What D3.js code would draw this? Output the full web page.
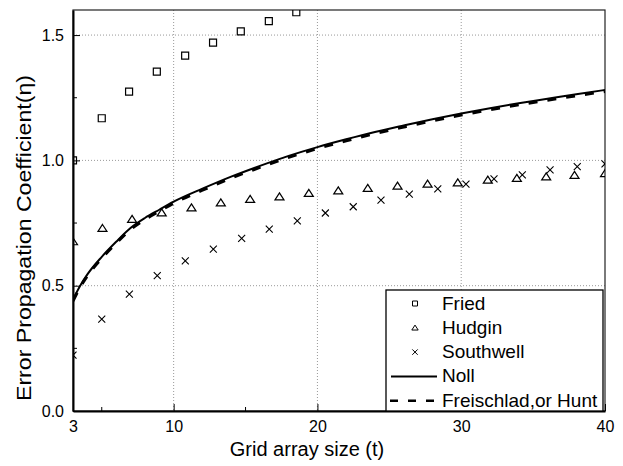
<!DOCTYPE html>
<html>
<head>
<meta charset="utf-8">
<script src="https://cdn.jsdelivr.net/npm/d3@7"></script>
<style>
  body { margin: 0; background: #fff; }
  svg { font-family: "Liberation Sans", Arial, sans-serif; }
  .grid line { stroke: #999; stroke-dasharray: 1,2; }
  .axis path, .axis line { stroke: #000; }
  .axis text { font-size: 16px; fill: #000; }
</style>
</head>
<body>
<svg id="chart" width="623" height="466"></svg>
<script>
// grid array sizes (t)
var friedT = [3, 5.0, 6.9, 8.83, 10.8, 12.74, 14.67, 16.62, 18.53];
var friedV = [1.0, 1.168, 1.274, 1.354, 1.418, 1.470, 1.515, 1.556, 1.591];

var hudginT = [3, 5.05, 7.11, 9.17, 11.24, 13.28, 15.32, 17.36, 19.4, 21.45, 23.5, 25.57, 27.66, 29.76, 31.85, 33.87, 35.91, 37.88, 40];
var hudginV = [0.676, 0.729, 0.765, 0.791, 0.811, 0.831, 0.845, 0.855, 0.869, 0.879, 0.889, 0.898, 0.906, 0.911, 0.922, 0.929, 0.935, 0.941, 0.948];

var southT = [3, 5.0, 6.92, 8.86, 10.81, 12.76, 14.73, 16.65, 18.6, 20.55, 22.49, 24.42, 26.39, 28.37, 30.33, 32.28, 34.25, 36.18, 38.07, 40];
var southV = [0.223, 0.367, 0.466, 0.540, 0.599, 0.646, 0.689, 0.726, 0.759, 0.790, 0.815, 0.841, 0.865, 0.886, 0.905, 0.926, 0.942, 0.962, 0.975, 0.986];

var lineT = [3, 3.5, 4, 5, 6, 7, 8, 9, 10, 12, 14, 16, 18, 20, 22, 24, 26, 28, 30, 32, 34, 36, 38, 40];
var nollV = [0.445, 0.50, 0.545, 0.615, 0.675, 0.73, 0.77, 0.803, 0.835, 0.887, 0.935, 0.978, 1.018, 1.053, 1.084, 1.113, 1.139, 1.164, 1.187, 1.208, 1.228, 1.246, 1.264, 1.281];
var freiV = [0.439, 0.494, 0.539, 0.609, 0.669, 0.724, 0.764, 0.797, 0.829, 0.881, 0.929, 0.972, 1.012, 1.047, 1.078, 1.107, 1.133, 1.158, 1.181, 1.202, 1.222, 1.240, 1.258, 1.275];

var xTicks = [3, 10, 20, 30, 40];
var xMinor = [5, 15, 25, 35];
var yTicks = [0, 0.5, 1.0, 1.5];
var yMinor = [0.25, 0.75, 1.25];

var legendNames = ["Fried", "Hudgin", "Southwell", "Noll", "Freischlad,or Hunt"];

var svg = d3.select("#chart");
var pl = 73, pr = 605, pt = 10, pb = 411;

var x = d3.scaleLinear().domain([3, 40]).range([pl, pr]);
var y = d3.scaleLinear().domain([0, 1.6]).range([pb, pt]);

svg.append("defs").append("clipPath").attr("id", "clip")
    .append("rect").attr("x", pl).attr("y", pt)
    .attr("width", pr - pl).attr("height", pb - pt);

// dotted grid
var grid = svg.append("g").attr("class", "grid");
grid.selectAll(".gx").data([10, 20, 30]).enter().append("line")
    .attr("x1", d => x(d)).attr("x2", d => x(d))
    .attr("y1", pt).attr("y2", pb);
grid.selectAll(".gy").data([0.5, 1.0, 1.5]).enter().append("line")
    .attr("x1", pl).attr("x2", pr)
    .attr("y1", d => y(d)).attr("y2", d => y(d));

// frame
svg.append("rect").attr("x", pl).attr("y", pt)
    .attr("width", pr - pl).attr("height", pb - pt)
    .attr("fill", "none").attr("stroke", "#222").attr("stroke-width", 1.2);

// axes, ticks inward
var xAxis = svg.append("g").attr("class", "axis")
    .attr("transform", "translate(0," + pb + ")")
    .call(d3.axisBottom(x).tickValues(xTicks).tickFormat(d3.format("d"))
        .tickSizeInner(-7).tickSizeOuter(0).tickPadding(10));
xAxis.select(".domain").attr("stroke-width", 2);
xAxis.selectAll(".minor").data(xMinor).enter().append("line")
    .attr("x1", d => x(d)).attr("x2", d => x(d))
    .attr("y1", 0).attr("y2", -4).attr("stroke", "#000");

var yAxis = svg.append("g").attr("class", "axis")
    .attr("transform", "translate(" + pl + ",0)")
    .call(d3.axisLeft(y).tickValues(yTicks).tickFormat(d3.format(".1f"))
        .tickSizeInner(-7).tickSizeOuter(0).tickPadding(9));
yAxis.select(".domain").attr("stroke-width", 2);
yAxis.selectAll(".minor").data(yMinor).enter().append("line")
    .attr("y1", d => y(d)).attr("y2", d => y(d))
    .attr("x1", 0).attr("x2", 4).attr("stroke", "#000");

// axis titles
svg.append("text").attr("x", 307).attr("y", 456)
    .attr("text-anchor", "middle").attr("font-size", 20)
    .text("Grid array size (t)");
svg.append("text").attr("transform", "translate(31,238) rotate(-90)")
    .attr("text-anchor", "middle").attr("font-size", 21)
    .attr("textLength", 326).attr("lengthAdjust", "spacingAndGlyphs")
    .text("Error Propagation Coefficient(η)");

// markers
function square(s) { return "M" + (-s) + "," + (-s) + "H" + s + "V" + s + "H" + (-s) + "Z"; }
function triangle(s) { return "M0," + (-s * 0.85) + "L" + s + "," + (s * 0.7) + "H" + (-s) + "Z"; }
function cross(s) { return "M" + (-s) + "," + (-s) + "L" + s + "," + s + "M" + (-s) + "," + s + "L" + s + "," + (-s); }

var plot = svg.append("g").attr("clip-path", "url(#clip)");

var line = d3.line().curve(d3.curveMonotoneX).x(d => x(d[0])).y(d => y(d[1]));
plot.append("path").datum(d3.zip(lineT, nollV))
    .attr("d", line).attr("fill", "none").attr("stroke", "#000").attr("stroke-width", 2);
plot.append("path").datum(d3.zip(lineT, freiV))
    .attr("d", line).attr("fill", "none").attr("stroke", "#000")
    .attr("stroke-width", 3).attr("stroke-dasharray", "9,10");

plot.selectAll(".fried").data(d3.zip(friedT, friedV)).enter().append("path")
    .attr("transform", d => "translate(" + x(d[0]) + "," + y(d[1]) + ")")
    .attr("d", square(3.5)).attr("fill", "none").attr("stroke", "#000").attr("stroke-width", 1.2);
plot.selectAll(".hudgin").data(d3.zip(hudginT, hudginV)).enter().append("path")
    .attr("transform", d => "translate(" + x(d[0]) + "," + y(d[1]) + ")")
    .attr("d", triangle(4.5)).attr("fill", "none").attr("stroke", "#000").attr("stroke-width", 1.2);
plot.selectAll(".south").data(d3.zip(southT, southV)).enter().append("path")
    .attr("transform", d => "translate(" + x(d[0]) + "," + y(d[1]) + ")")
    .attr("d", cross(3.5)).attr("fill", "none").attr("stroke", "#000").attr("stroke-width", 1.1);

// legend
var lg = svg.append("g");
lg.append("rect").attr("x", 386).attr("y", 290).attr("width", 217).attr("height", 121)
    .attr("fill", "#fff").attr("stroke", "#000").attr("stroke-width", 1.3);
var rowY = 303.5, rowH = 24.3;
legendNames.forEach(function (name, i) {
    var cy = rowY + i * rowH;
    lg.append("text").attr("x", 442).attr("y", cy + 6)
        .attr("font-size", 19).text(name);
    var m = lg.append("g").attr("transform", "translate(415," + cy + ")");
    if (i == 0) m.append("path").attr("d", square(2.5)).attr("fill", "none").attr("stroke", "#000");
    if (i == 1) m.append("path").attr("d", triangle(3.2)).attr("fill", "none").attr("stroke", "#000");
    if (i == 2) m.append("path").attr("d", cross(2.7)).attr("fill", "none").attr("stroke", "#000");
    if (i == 3) lg.append("line").attr("x1", 391).attr("x2", 437).attr("y1", cy).attr("y2", cy)
        .attr("stroke", "#000").attr("stroke-width", 2);
    if (i == 4) lg.append("line").attr("x1", 390).attr("x2", 437).attr("y1", cy).attr("y2", cy)
        .attr("stroke", "#000").attr("stroke-width", 2.5).attr("stroke-dasharray", "8,10");
});
</script>
</body>
</html>
